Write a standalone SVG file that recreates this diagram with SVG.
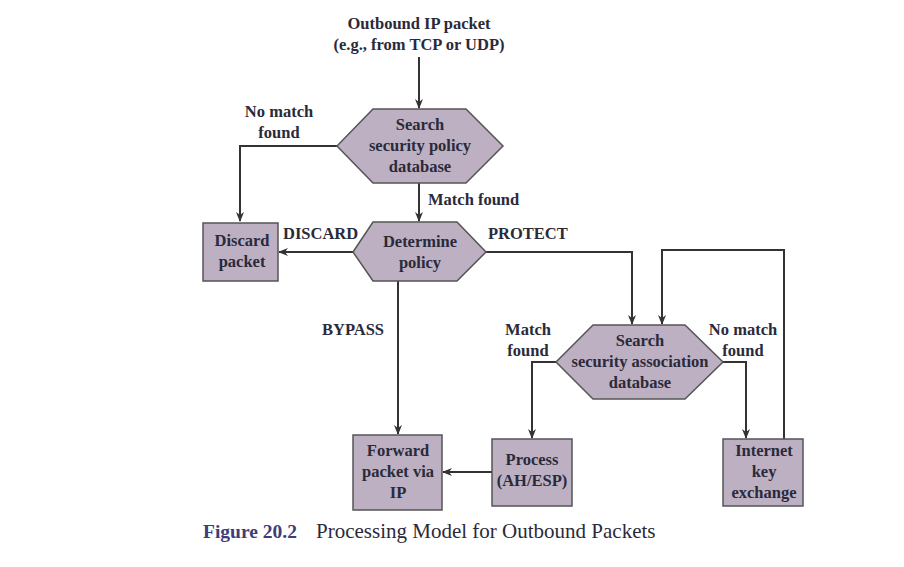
<svg xmlns="http://www.w3.org/2000/svg" width="904" height="567" viewBox="0 0 904 567">
<defs>
<marker id="ah" markerWidth="10" markerHeight="8" refX="9" refY="4" orient="auto" markerUnits="userSpaceOnUse">
<path d="M0,0 L10,4 L0,8 L3,4 Z" fill="#333"/>
</marker>
<style>
.shape{fill:#bcb0c2;stroke:#555;stroke-width:1.5}
.t{font-family:"Liberation Serif",serif;font-weight:bold;font-size:16.5px;fill:#2a2a3a;text-anchor:middle}
.l{font-family:"Liberation Serif",serif;font-weight:bold;font-size:16.5px;fill:#2a2a3a}
.c{fill:none;stroke:#333;stroke-width:2}
</style>
</defs>
<rect width="904" height="567" fill="#fff"/>
<g id="connectors">
<path class="c" d="M419,57 V108" marker-end="url(#ah)"/>
<path class="c" d="M337,146 H240 V221" marker-end="url(#ah)"/>
<path class="c" d="M419,183 V221" marker-end="url(#ah)"/>
<path class="c" d="M353,252 H279" marker-end="url(#ah)"/>
<path class="c" d="M486,252 H632 V324" marker-end="url(#ah)"/>
<path class="c" d="M398,281 V434" marker-end="url(#ah)"/>
<path class="c" d="M784,439 V250 H662 V324" marker-end="url(#ah)"/>
<path class="c" d="M556,362 H532 V438" marker-end="url(#ah)"/>
<path class="c" d="M723,362 H746 V438" marker-end="url(#ah)"/>
<path class="c" d="M492,472 H443" marker-end="url(#ah)"/>
</g>
<g id="input">
<text class="t" x="419" y="29">Outbound IP packet</text>
<text class="t" x="419" y="50">(e.g., from TCP or UDP)</text>
</g>
<g id="spd">
<polygon class="shape" points="337,146 373,109 466,109 503,146 466,183 373,183"/>
<text class="t" x="420" y="130">Search</text>
<text class="t" x="420" y="151">security policy</text>
<text class="t" x="420" y="172">database</text>
</g>
<g id="policy">
<polygon class="shape" points="353,252 373,222 457,222 486,252 457,281 373,281"/>
<text class="t" x="420" y="247">Determine</text>
<text class="t" x="420" y="268">policy</text>
</g>
<g id="discard">
<rect class="shape" x="203" y="223" width="75" height="58"/>
<text class="t" x="242" y="246">Discard</text>
<text class="t" x="242" y="267">packet</text>
</g>
<g id="sad">
<polygon class="shape" points="556,362 593,325 685,325 723,362 685,399 593,399"/>
<text class="t" x="640" y="346">Search</text>
<text class="t" x="640" y="367">security association</text>
<text class="t" x="640" y="388">database</text>
</g>
<g id="forward">
<rect class="shape" x="353" y="435" width="89" height="75"/>
<text class="t" x="398" y="456">Forward</text>
<text class="t" x="398" y="477">packet via</text>
<text class="t" x="398" y="498">IP</text>
</g>
<g id="process">
<rect class="shape" x="492" y="439" width="80" height="67"/>
<text class="t" x="532" y="465">Process</text>
<text class="t" x="532" y="486">(AH/ESP)</text>
</g>
<g id="ike">
<rect class="shape" x="723" y="439" width="80" height="67"/>
<text class="t" x="764" y="456">Internet</text>
<text class="t" x="764" y="477">key</text>
<text class="t" x="764" y="498">exchange</text>
</g>
<g id="labels">
<text class="t" x="279" y="117">No match</text>
<text class="t" x="279" y="138">found</text>
<text class="l" x="428" y="205">Match found</text>
<text class="l" x="283" y="239">DISCARD</text>
<text class="l" x="488" y="239">PROTECT</text>
<text class="t" x="353" y="335">BYPASS</text>
<text class="t" x="528" y="335">Match</text>
<text class="t" x="528" y="356">found</text>
<text class="t" x="743" y="335">No match</text>
<text class="t" x="743" y="356">found</text>
</g>
<g id="caption">
<text x="203" y="538" font-family="'Liberation Serif',serif" font-size="19.5" font-weight="bold" fill="#3d3d7a">Figure 20.2</text>
<text x="316" y="538" font-family="'Liberation Serif',serif" font-size="21" fill="#2a2a3a">Processing Model for Outbound Packets</text>
</g>
</svg>
